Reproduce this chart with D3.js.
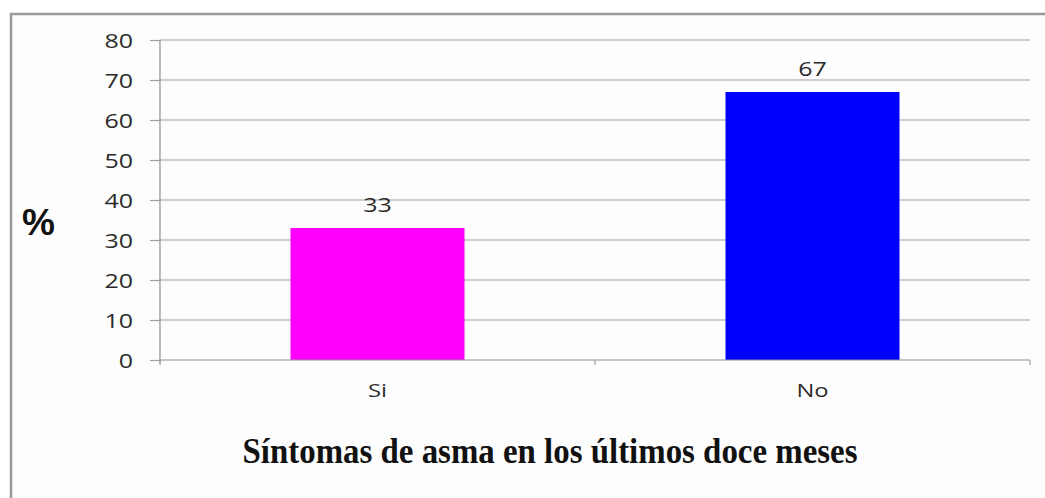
<!DOCTYPE html>
<html>
<head>
<meta charset="utf-8">
<script src="https://cdn.jsdelivr.net/npm/d3@7/dist/d3.min.js"></script>
<style>
  html, body { margin: 0; padding: 0; background: #ffffff; }
  svg { display: block; }
</style>
</head>
<body>
<svg id="chart" width="1045" height="498"></svg>
<script>
// Asthma symptoms in the last twelve months (%)
const categories = ["Si", "No"];
const values = [33, 67];
const barColors = ["#ff00ff", "#0000ff"];
const yTicks = [0, 10, 20, 30, 40, 50, 60, 70, 80];
const xTitle = "Síntomas de asma en los últimos doce meses";
const yTitle = "%";

const svg = d3.select("#chart");
const W = 1045, H = 498;
const plot = { left: 160, right: 1030, top: 40, bottom: 360 };
const SX = 1.25; // horizontal stretch of the label type
const labelFont = "'Open Sans', sans-serif";

// place a text at (px, py) with a stretch
function stretched(sel, px, py, sx, sy = 1) {
  sel.attr("x", 0).attr("y", 0)
     .attr("transform", (d, i) => `translate(${px(d, i)},${py(d, i)}) scale(${sx},${sy})`);
}

// outer frame
svg.append("rect")
  .attr("x", 11).attr("y", 14)
  .attr("width", W + 20).attr("height", H + 20)
  .attr("fill", "#fdfdfd")
  .attr("stroke", "#999").attr("stroke-width", 2.5);

const x = d3.scaleBand()
  .domain(categories)
  .range([plot.left, plot.right])
  .paddingInner(0.6)
  .paddingOuter(0.3);

const y = d3.scaleLinear().domain([0, 80]).range([plot.bottom, plot.top]);

// horizontal gridlines
svg.append("g")
  .selectAll("line")
  .data(yTicks.filter(d => d > 0))
  .join("line")
  .attr("x1", plot.left).attr("x2", plot.right)
  .attr("y1", d => y(d)).attr("y2", d => y(d))
  .attr("stroke", "#a0a0a0").attr("stroke-width", 1.2);

// y axis
const yAxis = svg.append("g")
  .attr("transform", `translate(${plot.left},0)`)
  .call(d3.axisLeft(y).tickValues(yTicks).tickSize(10).tickPadding(17));
yAxis.select(".domain").attr("stroke", "#909090").attr("stroke-width", 1.2)
  .attr("d", `M0,${plot.top}V${plot.bottom + 3}`);
yAxis.selectAll(".tick line").attr("stroke", "#a0a0a0").attr("stroke-width", 1.2);
yAxis.selectAll(".tick text")
  .attr("fill", "#2a2a2a")
  .attr("dy", null)
  .style("font-family", labelFont)
  .style("font-size", "20px")
  .call(stretched, () => -27, () => 7, SX);

// bars
svg.append("g")
  .selectAll("rect")
  .data(values)
  .join("rect")
  .attr("x", (d, i) => x(categories[i]))
  .attr("y", d => y(d))
  .attr("width", x.bandwidth())
  .attr("height", d => y(0) - y(d))
  .attr("fill", (d, i) => barColors[i]);

// x axis baseline with category boundary ticks
const xAxisG = svg.append("g").attr("transform", `translate(0,${plot.bottom})`);
xAxisG.append("line")
  .attr("x1", plot.left).attr("x2", plot.right)
  .attr("y1", 0).attr("y2", 0)
  .attr("stroke", "#909090").attr("stroke-width", 1.2);
const bounds = [plot.left, ...categories.map(c => x(c) + x.bandwidth() / 2 + x.step() / 2)];
xAxisG.selectAll("line.tk")
  .data(bounds)
  .join("line").attr("class", "tk")
  .attr("x1", d => d).attr("x2", d => d)
  .attr("y1", 0).attr("y2", 5)
  .attr("stroke", "#a0a0a0").attr("stroke-width", 1.2);

// category labels
svg.append("g")
  .selectAll("text")
  .data(categories)
  .join("text")
  .attr("text-anchor", "middle")
  .attr("fill", "#2a2a2a")
  .style("font-family", labelFont)
  .style("font-size", "19px")
  .text(d => d)
  .call(stretched, d => x(d) + x.bandwidth() / 2, () => 397, SX);

// value labels
svg.append("g")
  .selectAll("text")
  .data(values)
  .join("text")
  .attr("text-anchor", "middle")
  .attr("fill", "#2a2a2a")
  .style("font-family", labelFont)
  .style("font-size", "20px")
  .text(d => d)
  .call(stretched, (d, i) => x(categories[i]) + x.bandwidth() / 2, d => y(d) - 16, SX);

// y title
svg.append("text")
  .attr("x", 38.5).attr("y", 235)
  .attr("text-anchor", "middle")
  .attr("fill", "#111")
  .style("font-family", "'Liberation Sans', Arial, sans-serif")
  .style("font-weight", "bold")
  .style("font-size", "37px")
  .text(yTitle);

// x title, sized to span its row
const t = svg.append("text")
  .attr("text-anchor", "middle")
  .attr("fill", "#111")
  .style("font-family", "'Liberation Serif', 'Times New Roman', serif")
  .style("font-weight", "bold")
  .style("font-size", "24px")
  .text(xTitle);
const len = t.node().getComputedTextLength();
t.style("font-size", (24 * 615 / len).toFixed(2) + "px")
  .call(stretched, () => 550, () => 463, 1, 1.1);
</script>
</body>
</html>
